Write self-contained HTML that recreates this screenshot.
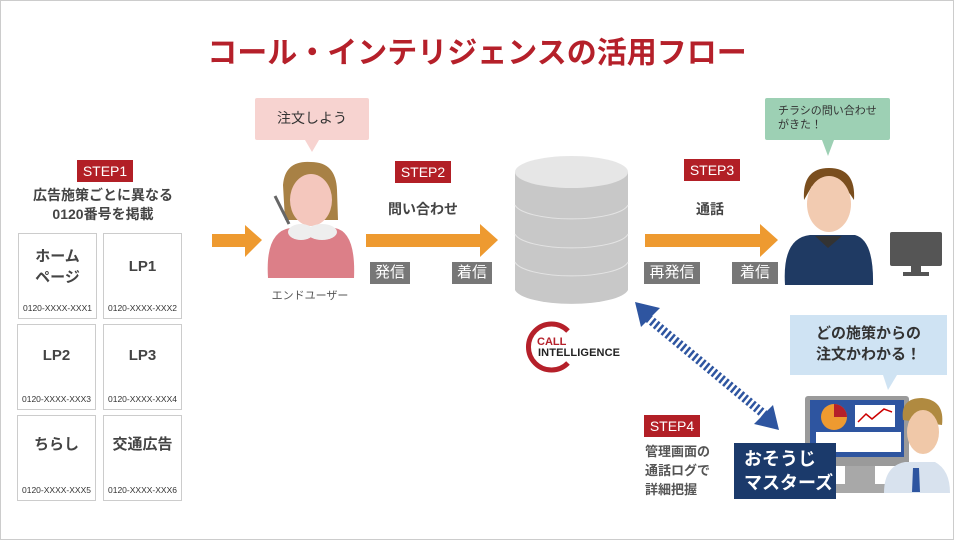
<!DOCTYPE html>
<html><head><meta charset="utf-8"><style>
*{margin:0;padding:0;box-sizing:border-box}
body{width:954px;height:540px;background:#fff;position:relative;overflow:hidden;font-family:"Liberation Sans","Noto Sans CJK JP",sans-serif;color:#444}
.a{position:absolute}
.step{position:absolute;background:#b21f26;color:#fff;font-size:14px;width:56px;height:22px;line-height:22px;text-align:center}
.card{position:absolute;width:79px;height:86px;border:1px solid #ccc;background:#fff}
.card .t{position:absolute;top:12px;width:100%;text-align:center;font-size:15px;font-weight:bold;line-height:21px;color:#444}
.card .n{position:absolute;bottom:5px;width:100%;text-align:center;font-size:8.5px;color:#333}
.gl{position:absolute;background:#777;color:#fff;font-size:15px;height:22px;line-height:22px;text-align:center}
.bold{font-weight:bold;font-size:14px;text-align:center;color:#444}
</style></head><body>
<div class="a" style="left:0;top:0;width:954px;height:540px;border:1px solid #ccc"></div>
<div class="a" style="left:0;top:28px;width:954px;text-align:center;font-size:30px;font-weight:bold;color:#b5202a">コール・インテリジェンスの活用フロー</div>

<div class="step" style="left:77px;top:160px">STEP1</div>
<div class="a bold" style="left:0;top:186px;width:206px;line-height:19px">広告施策ごとに異なる<br>0120番号を掲載</div>
<div class="card" style="left:18px;top:233px"><div class="t">ホーム<br>ページ</div><div class="n">0120-XXXX-XXX1</div></div>
<div class="card" style="left:103px;top:233px"><div class="t" style="top:22px">LP1</div><div class="n">0120-XXXX-XXX2</div></div>
<div class="card" style="left:17px;top:324px"><div class="t" style="top:20px">LP2</div><div class="n">0120-XXXX-XXX3</div></div>
<div class="card" style="left:103px;top:324px"><div class="t" style="top:20px">LP3</div><div class="n">0120-XXXX-XXX4</div></div>
<div class="card" style="left:17px;top:415px"><div class="t" style="top:18px">ちらし</div><div class="n">0120-XXXX-XXX5</div></div>
<div class="card" style="left:103px;top:415px"><div class="t" style="top:18px">交通広告</div><div class="n">0120-XXXX-XXX6</div></div>

<svg class="a" style="left:0;top:0" width="954" height="540">
<polygon points="212,234 245,234 245,225 262,240 245,257 245,247 212,247" fill="#ee9a30"/>
<polygon points="366,234 480,234 480,224 498,240 480,257 480,247 366,247" fill="#ee9a30"/>
<polygon points="645,234 760,234 760,224 778,240 760,257 760,247 645,247" fill="#ee9a30"/>
<rect x="255" y="98" width="114" height="42" rx="2" fill="#f7d3d0"/>
<polygon points="305,140 319,140 312,152" fill="#f7d3d0"/>
<path d="M268,278 Q265,232 290,228 L335,228 Q356,232 354,278 Z" fill="#dc7f88"/>
<path d="M283,185 Q285,160 311,162 Q336,162 337,190 L338,220 L285,220 Z" fill="#a88145"/>
<ellipse cx="311" cy="200" rx="21" ry="26" fill="#f4c7bd"/>
<ellipse cx="322" cy="232" rx="15" ry="8" fill="#eee"/>
<ellipse cx="301" cy="232" rx="13" ry="8" fill="#eee"/>
<line x1="275" y1="196" x2="289" y2="224" stroke="#666" stroke-width="3"/>
<path d="M515,172 L515,290 A57,16 0 0 0 628,290 L628,172 Z" fill="#c8c8c8"/>
<path d="M515,205 A57,16 0 0 0 628,205 M515,234 A57,16 0 0 0 628,234 M515,262 A57,16 0 0 0 628,262" stroke="#e4e4e4" stroke-width="1" fill="none"/>
<ellipse cx="571.5" cy="172" rx="56.5" ry="16" fill="#e6e6e6"/>
<path d="M568,331 A23,23 0 1 0 568,363" stroke="#b5202a" stroke-width="5" fill="none"/>
<text x="537" y="345" font-size="11" font-weight="bold" fill="#b5202a" font-family="Liberation Sans">CALL</text>
<text x="538" y="356" font-size="11" font-weight="bold" fill="#222" font-family="Liberation Sans" textLength="82">INTELLIGENCE</text>
<rect x="765" y="98" width="125" height="42" rx="2" fill="#9dd0b4"/>
<polygon points="822,140 834,140 828,156" fill="#9dd0b4"/>
<path d="M785,285 Q782,238 810,235 L855,235 Q874,240 873,285 Z" fill="#1f3a63"/>
<polygon points="815,236 828,248 842,236" fill="#333"/>
<path d="M804,200 Q802,168 829,168 Q856,168 854,200 L850,194 Q840,182 812,186 Z" fill="#7a4e1e"/>
<ellipse cx="829" cy="204" rx="22" ry="28" fill="#f2cbb1"/>
<rect x="890" y="232" width="52" height="34" rx="2" fill="#555"/>
<rect x="911" y="266" width="10" height="6" fill="#555"/>
<rect x="903" y="272" width="26" height="4" fill="#555"/>
<line x1="648" y1="318" x2="765" y2="415" stroke="#2e55a0" stroke-width="9" stroke-dasharray="2.5 2.5"/>
<polygon points="635,302 660,308 641,327" fill="#2e55a0"/>
<polygon points="779,430 754,424 773,405" fill="#2e55a0"/>
<rect x="790" y="315" width="157" height="60" fill="#cfe3f3"/>
<polygon points="883,375 897,375 888,390" fill="#cfe3f3"/>
<rect x="805" y="396" width="104" height="70" rx="3" fill="#9a9a9a"/>
<rect x="810" y="400" width="94" height="57" fill="#2e55a0"/>
<circle cx="834" cy="417" r="13" fill="#ee9a30"/>
<path d="M834,417 L834,404 A13,13 0 0 1 847,417 Z" fill="#b5202a"/>
<rect x="855" y="405" width="40" height="22" fill="#fff"/>
<polyline points="858,422 866,414 872,419 884,409 892,412" stroke="#c00" stroke-width="1.5" fill="none"/>
<rect x="816" y="432" width="85" height="20" fill="#fff"/>
<rect x="845" y="466" width="30" height="18" fill="#a8a8a8"/>
<rect x="830" y="484" width="60" height="9" fill="#a8a8a8"/>
<path d="M884,493 Q884,466 905,462 L935,462 Q950,470 950,493 Z" fill="#d8e2ee"/>
<polygon points="913,468 919,468 920,492 912,492" fill="#2e55a0"/>
<path d="M903,420 Q900,398 922,398 Q945,400 942,425 Z" fill="#b08a40"/>
<ellipse cx="923" cy="432" rx="16" ry="22" fill="#f0c8a8"/>
</svg>

<div class="a" style="left:255px;top:108px;width:114px;text-align:center;font-size:14px;color:#333">注文しよう</div>
<div class="a" style="left:260px;top:287px;width:100px;text-align:center;font-size:11px;color:#555">エンドユーザー</div>

<div class="step" style="left:395px;top:161px">STEP2</div>
<div class="a bold" style="left:373px;top:199px;width:100px">問い合わせ</div>
<div class="gl" style="left:370px;top:262px;width:40px">発信</div>
<div class="gl" style="left:452px;top:262px;width:40px">着信</div>

<div class="step" style="left:684px;top:159px">STEP3</div>
<div class="a bold" style="left:660px;top:199px;width:100px">通話</div>
<div class="gl" style="left:644px;top:262px;width:56px">再発信</div>
<div class="gl" style="left:732px;top:262px;width:46px">着信</div>

<div class="a" style="left:778px;top:104px;font-size:11px;line-height:14px;color:#333">チラシの問い合わせ<br>がきた！</div>

<div class="a" style="left:790px;top:323px;width:157px;text-align:center;font-size:15px;font-weight:bold;line-height:21px;color:#333">どの施策からの<br>注文かわかる！</div>

<div class="step" style="left:644px;top:415px;width:56px">STEP4</div>
<div class="a" style="left:645px;top:442px;font-size:13px;line-height:19px;color:#555;font-weight:bold">管理画面の<br>通話ログで<br>詳細把握</div>
<div class="a" style="left:734px;top:443px;width:102px;height:56px;background:#1b3a6b;color:#fff;font-size:18px;font-weight:bold;line-height:24px;padding:4px 0 0 10px">おそうじ<br>マスターズ</div>
</body></html>
